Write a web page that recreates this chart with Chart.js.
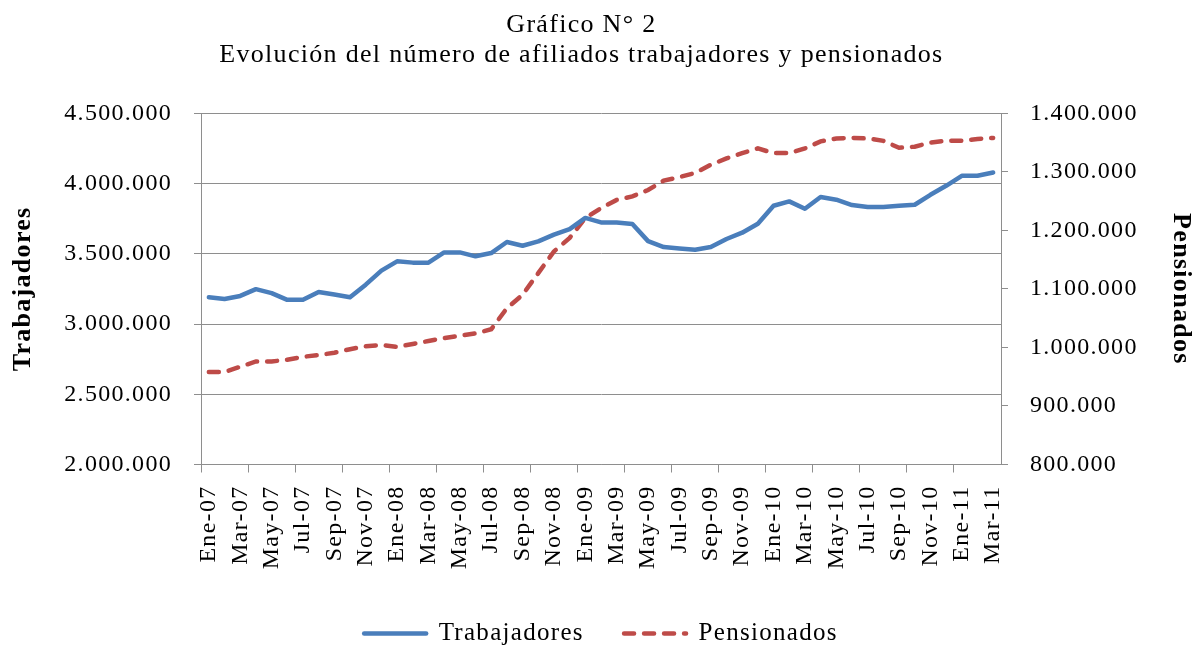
<!DOCTYPE html>
<html lang="es">
  <head>
    <meta charset="UTF-8" />
    <title>Gráfico N° 2</title>
    <script src="https://cdn.jsdelivr.net/npm/chart.js"></script>
    <style>
      body { margin: 0; background: #fff; }
      canvas { display: block; }
    </style>
  </head>
  <body>
    <canvas id="chart" width="1194" height="645"></canvas>
    <script>
      const categories = [
        "Ene-07", "Feb-07", "Mar-07", "Abr-07", "May-07", "Jun-07", "Jul-07", "Ago-07", "Sep-07", "Oct-07", "Nov-07", "Dic-07",
        "Ene-08", "Feb-08", "Mar-08", "Abr-08", "May-08", "Jun-08", "Jul-08", "Ago-08", "Sep-08", "Oct-08", "Nov-08", "Dic-08",
        "Ene-09", "Feb-09", "Mar-09", "Abr-09", "May-09", "Jun-09", "Jul-09", "Ago-09", "Sep-09", "Oct-09", "Nov-09", "Dic-09",
        "Ene-10", "Feb-10", "Mar-10", "Abr-10", "May-10", "Jun-10", "Jul-10", "Ago-10", "Sep-10", "Oct-10", "Nov-10", "Dic-10",
        "Ene-11", "Feb-11", "Mar-11",
      ];
      const trabajadores = [
        3190000, 3178000, 3200000, 3248000, 3220000, 3172000, 3172000, 3228000, 3210000, 3190000, 3280000, 3380000,
        3446000, 3437000, 3437000, 3510000, 3510000, 3482000, 3505000, 3584000, 3557000, 3588000, 3636000, 3676000,
        3755000, 3723000, 3723000, 3712000, 3590000, 3548000, 3538000, 3529000, 3548000, 3605000, 3650000, 3714000,
        3842000, 3873000, 3820000, 3904000, 3885000, 3847000, 3833000, 3833000, 3842000, 3849000, 3920000, 3984000,
        4055000, 4055000, 4079000,
      ];
      const pensionados = [
        958000, 958000, 967000, 976000, 976000, 979000, 984000, 987000, 991000, 997000, 1002000, 1004000,
        1001000, 1006000, 1011000, 1016000, 1020000, 1024000, 1031000, 1067000, 1090000, 1127000, 1164000, 1187000,
        1221000, 1238000, 1252000, 1258000, 1269000, 1285000, 1291000, 1298000, 1312000, 1323000, 1332000, 1340000,
        1332000, 1332000, 1340000, 1352000, 1357000, 1358000, 1357000, 1353000, 1341000, 1343000, 1350000, 1353000,
        1353000, 1356000, 1358000,
      ];
      const titleLines = ["Gráfico N° 2", "Evolución del número de afiliados trabajadores y pensionados"];
      const leftTicks = { min: 2000000, max: 4500000, step: 500000 };
      const rightTicks = { min: 800000, max: 1400000, step: 100000 };

      const fmt = (v) => String(v).replace(/\B(?=(\d{3})+(?!\d))/g, ".");
      const pad = (s, n) => s + "\u00a0".repeat(n);
      const serif = "'Liberation Serif', 'Times New Roman', serif";
      const gray = "#8e8e8e";

      // Excel text is drawn a bit wider than the canvas default
      const spacing = {
        id: "spacing",
        beforeUpdate: (c) => { c.ctx.letterSpacing = "1.3px"; },
        beforeDraw: (c) => { c.ctx.letterSpacing = "1.3px"; },
      };

      new Chart(document.getElementById("chart"), {
        type: "line",
        plugins: [spacing],
        data: {
          labels: categories,
          datasets: [
            {
              label: pad("Trabajadores", 4),
              data: trabajadores,
              yAxisID: "y",
              borderColor: "#4a7ebb",
              backgroundColor: "#4a7ebb",
              borderWidth: 4.5,
              borderCapStyle: "round",
              borderJoinStyle: "round",
              pointRadius: 0,
              tension: 0,
            },
            {
              label: "Pensionados",
              data: pensionados,
              yAxisID: "y1",
              borderColor: "#be4b48",
              backgroundColor: "#be4b48",
              borderWidth: 4.5,
              borderDash: [10, 10],
              borderCapStyle: "round",
              pointRadius: 0,
              tension: 0,
            },
          ],
        },
        options: {
          responsive: false,
          animation: false,
          layout: { padding: { left: 0, right: 0, top: 0, bottom: -11 } },
          plugins: {
            tooltip: { enabled: false },
            title: {
              display: true,
              text: titleLines.map((t) => pad(t, 4)),
              color: "#000",
              font: { family: serif, size: 26, weight: "normal", lineHeight: 1.15 },
              padding: { top: 10, bottom: 43.5 },
            },
            legend: {
              position: "bottom",
              fullSize: false,
              labels: {
                usePointStyle: true,
                pointStyleWidth: 62,
                boxHeight: 6,
                padding: 10,
                color: "#000",
                font: { family: serif, size: 25 },
                generateLabels: (chart) =>
                  chart.data.datasets.map((d, i) => ({
                    text: d.label,
                    datasetIndex: i,
                    fillStyle: d.borderColor,
                    strokeStyle: d.borderColor,
                    fontColor: "#000",
                    lineWidth: d.borderWidth,
                    lineDash: d.borderDash || [],
                    lineCap: "round",
                    pointStyle: "line",
                    hidden: false,
                  })),
              },
            },
          },
          scales: {
            x: {
              offset: true,
              afterFit: (s) => { s.height = 146.5; },
              border: { display: true, color: gray },
              grid: {
                offset: true,
                drawOnChartArea: false,
                tickLength: 8,
                color: (ctx) => (ctx.index % 3 === 0 ? gray : "rgba(0,0,0,0)"),
              },
              ticks: {
                autoSkip: false,
                minRotation: 90,
                maxRotation: 90,
                padding: 13,
                color: "#000",
                font: { family: serif, size: 24 },
                callback: (v, i) => (i % 2 === 0 ? categories[i] : ""),
              },
            },
            y: {
              position: "left",
              min: leftTicks.min,
              max: leftTicks.max,
              afterFit: (s) => { s.width = 201; },
              border: { display: true, color: gray },
              grid: { color: gray, tickLength: 7 },
              ticks: {
                stepSize: leftTicks.step,
                padding: 22,
                color: "#000",
                font: { family: serif, size: 24 },
                callback: (v) => fmt(v),
              },
              title: {
                display: true,
                text: "Trabajadores",
                color: "#000",
                font: { family: serif, size: 26, weight: "bold", lineHeight: 1 },
                padding: { top: 10, bottom: 4 },
              },
            },
            y1: {
              position: "right",
              min: rightTicks.min,
              max: rightTicks.max,
              afterFit: (s) => { s.width = 193; },
              border: { display: true, color: gray },
              grid: { drawOnChartArea: false, color: gray, tickLength: 7 },
              ticks: {
                stepSize: rightTicks.step,
                padding: 22,
                color: "#000",
                font: { family: serif, size: 24 },
                callback: (v) => fmt(v),
              },
              title: {
                display: true,
                text: "Pensionados",
                color: "#000",
                font: { family: serif, size: 26, weight: "bold", lineHeight: 1 },
                padding: { top: 0, bottom: 4 },
              },
            },
          },
        },
      });
    </script>
  </body>
</html>
